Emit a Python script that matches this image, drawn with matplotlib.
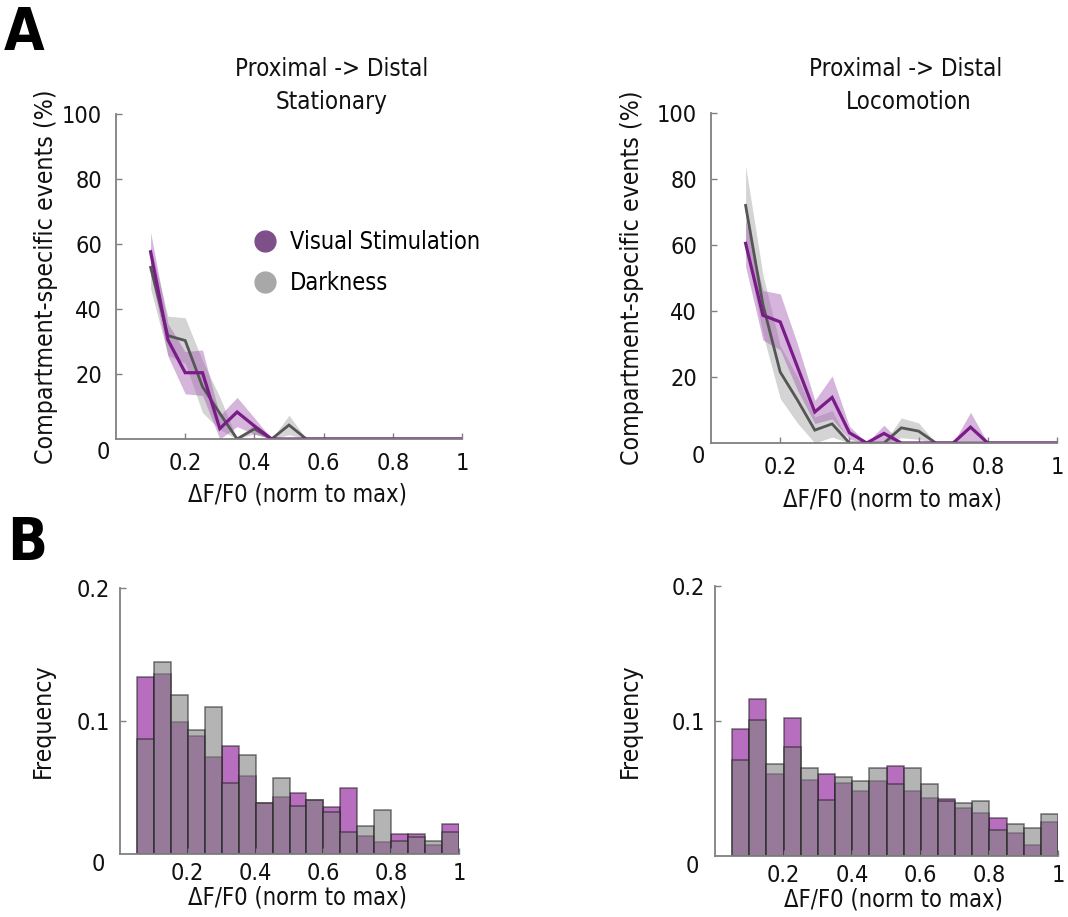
import os
import numpy as np
import matplotlib
matplotlib.use("Agg")
import matplotlib.pyplot as plt
from matplotlib import font_manager as fm
from matplotlib.textpath import TextToPath
from matplotlib.lines import Line2D

# ---- compartment-specific events vs. normalized amplitude (panel A) ----
amp_x = [0.10, 0.15, 0.20, 0.25, 0.30, 0.35, 0.40, 0.45, 0.50, 0.55,
         0.60, 0.65, 0.70, 0.75, 0.80, 0.85, 0.90, 0.95, 1.00]

stat_visual = [57.6, 30.5, 20.4, 20.4, 3.2, 8.3, 4.0, 0, 0, 0,
               0, 0, 0, 0, 0, 0, 0, 0, 0]
stat_visual_sem = [6.0, 5.0, 6.5, 7.0, 4.0, 4.5, 2.5, 0, 0, 0,
                   0, 0, 0, 0, 0, 0, 0, 0, 0]
stat_dark = [52.8, 31.8, 30.3, 16.1, 7.9, 0, 3.1, 0, 4.3, 0,
             0, 0, 0, 0, 0, 0, 0, 0, 0]
stat_dark_sem = [6.5, 6.0, 7.0, 8.0, 5.0, 0, 1.5, 0, 3.0, 0,
                 0, 0, 0, 0, 0, 0, 0, 0, 0]

loco_visual = [60.5, 38.7, 36.7, 23.0, 9.4, 13.8, 3.1, 0, 2.9, 0,
               0, 0, 0, 4.8, 0, 0, 0, 0, 0]
loco_visual_sem = [7.0, 7.5, 8.5, 7.0, 3.5, 6.5, 2.0, 0, 2.5, 0,
                   0, 0, 0, 4.5, 0, 0, 0, 0, 0]
loco_dark = [72.0, 42.0, 21.5, 13.0, 3.9, 5.8, 0, 0, 0, 4.6,
             3.6, 0, 0, 0, 0, 0, 0, 0, 0]
loco_dark_sem = [12.0, 9.0, 8.0, 7.0, 4.0, 4.0, 0, 0, 0, 3.0,
                 2.5, 0, 0, 0, 0, 0, 0, 0, 0]

# ---- amplitude distributions (panel B) ----
bin_edges = [0.05, 0.10, 0.15, 0.20, 0.25, 0.30, 0.35, 0.40, 0.45, 0.50,
             0.55, 0.60, 0.65, 0.70, 0.75, 0.80, 0.85, 0.90, 0.95, 1.00]

stat_visual_freq = [0.133, 0.1357, 0.0992, 0.0884, 0.0726, 0.0814, 0.0588,
                    0.0382, 0.0432, 0.0455, 0.0407, 0.0357, 0.0495, 0.0138,
                    0.0088, 0.0151, 0.0151, 0.0068, 0.0224]
stat_dark_freq = [0.0864, 0.144, 0.1198, 0.0935, 0.1106, 0.0533, 0.0741,
                  0.0382, 0.0575, 0.0362, 0.0407, 0.0314, 0.0166, 0.0211,
                  0.0334, 0.0101, 0.0126, 0.0098, 0.0163]

loco_visual_freq = [0.0943, 0.1161, 0.0611, 0.102, 0.0562, 0.0609, 0.0542,
                    0.048, 0.0554, 0.0663, 0.048, 0.0426, 0.0421, 0.0356,
                    0.0322, 0.0282, 0.0171, 0.0079, 0.0255]
loco_dark_freq = [0.071, 0.1007, 0.0681, 0.0809, 0.0651, 0.0413, 0.0582,
                  0.0557, 0.0651, 0.0537, 0.0651, 0.0535, 0.0411, 0.0391,
                  0.0411, 0.0193, 0.0235, 0.021, 0.0314]

xtick_vals = [0.2, 0.4, 0.6, 0.8, 1.0]
xtick_labels = ['0.2', '0.4', '0.6', '0.8', '1']

LEGEND_LABELS = ['Visual Stimulation', 'Darkness']
TITLE_TOP = 'Proximal -> Distal'
XLABEL = '\u0394F/F0 (norm to max)'
YLABEL_EVENTS = 'Compartment-specific events (%)'
YLABEL_HIST = 'Frequency'


# ---- a narrow sans-serif face for all text, if one is installed ----
def find_font(patterns):
    files = fm.findSystemFonts() + [f.fname for f in fm.fontManager.ttflist]
    names = {os.path.basename(f).lower(): f for f in files}
    for pat in patterns:
        for base, path in sorted(names.items()):
            if base.startswith(pat):
                return path
    return None


REG_FILE = find_font(['liberationsansnarrow-regular', 'liberationsansnarrow.',
                      'notosans-condensed.', 'dejavusanscondensed.',
                      'notosans-semicondensed.', 'robotocondensed-regular',
                      'opensans_condensed-regular', 'opensans-condensed'])
BOLD_FILE = find_font(['liberationsansnarrow-bold.', 'notosans-condensedbold.',
                       'dejavusanscondensed-bold.', 'notosans-semicondensedbold.',
                       'robotocondensed-bold.', 'opensans_condensed-bold'])

if REG_FILE:
    fm.fontManager.addfont(REG_FILE)
    plt.rcParams['font.family'] = [fm.FontProperties(fname=REG_FILE).get_name(), 'DejaVu Sans']


def fp(size, bold=False):
    if bold and BOLD_FILE:
        return fm.FontProperties(fname=BOLD_FILE, size=size)
    if REG_FILE:
        return fm.FontProperties(fname=REG_FILE, size=size,
                                 weight='bold' if bold else 'normal')
    return fm.FontProperties(family='DejaVu Sans', size=size,
                             weight='bold' if bold else 'normal')


_t2p = TextToPath()


def size_for(text, width_px, lo=12, hi=21):
    """Font size (pt) at which `text` spans about width_px pixels at 100 dpi."""
    w, _, _ = _t2p.get_text_width_height_descent(text, fp(10), ismath=False)
    s = 1.08 * 10 * width_px / (w * 100 / 72)
    return float(min(max(s, lo), hi))


FS_TICK = size_for('0.2', 31)
FS_XLAB = size_for(XLABEL, 203)
FS_YLAB = size_for(YLABEL_EVENTS, 347)
FS_TITLE = size_for(TITLE_TOP, 179)
FS_LEG = size_for(LEGEND_LABELS[0], 177)

VIS_LINE = '#7a1c88'
DARK_LINE = '#555555'
VIS_BAND = '#a45cb2'
DARK_BAND = '#a0a0a0'
VIS_BAR = '#8a0d93'
DARK_BAR = '#828282'
AXIS_COL = '#808080'
TXT = '#111111'

W, H = 1068, 917
fig = plt.figure(figsize=(W / 100, H / 100), dpi=100)


def px_axes(x0, x1, y_bottom, y_top):
    return fig.add_axes([x0 / W, 1 - y_bottom / H, (x1 - x0) / W, (y_bottom - y_top) / H])


def style(ax, xpad, ypad):
    for s in ('top', 'right'):
        ax.spines[s].set_visible(False)
    for s in ('left', 'bottom'):
        ax.spines[s].set_color(AXIS_COL)
        ax.spines[s].set_linewidth(1.3)
    ax.tick_params(direction='in', length=4, width=1, color=AXIS_COL, labelcolor=TXT)
    ax.tick_params(axis='x', pad=xpad)
    ax.tick_params(axis='y', pad=ypad)
    ax.set_xlim(0, 1)
    ax.set_xticks(xtick_vals)
    ax.set_xticklabels(xtick_labels)
    for lab in ax.get_xticklabels() + ax.get_yticklabels():
        lab.set_fontproperties(fp(FS_TICK))


def labels(ax, ylabel, ylabel_x, xlabel_xy, zero_xy):
    ax.text(zero_xy[0], zero_xy[1], '0', transform=ax.transAxes, ha='center',
            va='center', fontproperties=fp(FS_TICK), color=TXT)
    ax.set_ylabel(ylabel, fontproperties=fp(FS_YLAB), color=TXT)
    ax.yaxis.set_label_coords(ylabel_x, 0.5)
    ax.yaxis.label.set_va('center')
    ax.set_xlabel(XLABEL, fontproperties=fp(FS_XLAB), color=TXT)
    ax.xaxis.set_label_coords(*xlabel_xy)
    ax.xaxis.label.set_va('center')


def event_panel(ax, vis, vis_sem, dark, dark_sem, ylabel_x):
    x = np.array(amp_x)
    for mean, sem, band in ((dark, dark_sem, DARK_BAND), (vis, vis_sem, VIS_BAND)):
        m = np.array(mean)
        s = np.array(sem)
        ax.fill_between(x, np.clip(m - s, 0, None), m + s, color=band,
                        alpha=0.45, linewidth=0)
    ax.plot(x, dark, color=DARK_LINE, lw=2.0, solid_joinstyle='miter')
    ax.plot(x, vis, color=VIS_LINE, lw=2.3, solid_joinstyle='miter')
    ax.set_ylim(0, 100)
    ax.set_yticks([20, 40, 60, 80, 100])
    style(ax, xpad=9, ypad=10)
    labels(ax, YLABEL_EVENTS, ylabel_x, (0.526, -0.172), (-0.036, -0.042))


def hist_panel(ax, vis_freq, dark_freq, ylabel_x, xlabel_xy):
    left = np.array(bin_edges[:-1])
    width = np.diff(bin_edges)
    ax.bar(left, vis_freq, width=width, align='edge', color=VIS_BAR, alpha=0.6,
           edgecolor='#222222', linewidth=1.1)
    ax.bar(left, dark_freq, width=width, align='edge', color=DARK_BAR, alpha=0.6,
           edgecolor='#222222', linewidth=1.1)
    ax.set_ylim(0, 0.2)
    ax.set_yticks([0.1, 0.2])
    ax.set_yticklabels(['0.1', '0.2'])
    style(ax, xpad=6, ypad=7)
    labels(ax, YLABEL_HIST, ylabel_x, xlabel_xy, (-0.065, -0.04))


# Panel A
ax1 = px_axes(116, 462, 439, 114)
event_panel(ax1, stat_visual, stat_visual_sem, stat_dark, stat_dark_sem, -0.202)
ax2 = px_axes(711, 1057, 443, 113)
event_panel(ax2, loco_visual, loco_visual_sem, loco_dark, loco_dark_sem, -0.228)

handles = [Line2D([], [], ls='', marker='o', markersize=15, color='#7f4f8a'),
           Line2D([], [], ls='', marker='o', markersize=15, color='#a8a8a8')]
ax1.legend(handles, LEGEND_LABELS, loc='center left',
           bbox_to_anchor=(0.397, 0.543), frameon=False, prop=fp(FS_LEG),
           handlelength=1.0, handletextpad=0.55, borderpad=0, borderaxespad=0,
           labelspacing=0.7)

for x, y, s in ((332, 69, TITLE_TOP), (332, 102, 'Stationary'),
                (906, 69, TITLE_TOP), (909, 102, 'Locomotion')):
    fig.text(x / W, 1 - y / H, s, ha='center', va='center',
             fontproperties=fp(FS_TITLE), color=TXT)

# Panel B
ax3 = px_axes(120, 459, 854, 588)
hist_panel(ax3, stat_visual_freq, stat_dark_freq, -0.227, (0.525, -0.162))
ax4 = px_axes(715, 1058, 856, 586)
hist_panel(ax4, loco_visual_freq, loco_dark_freq, -0.248, (0.519, -0.160))

fig.text(24 / W, 1 - 33 / H, 'A', ha='center', va='center', fontproperties=fp(42, True))
fig.text(27 / W, 1 - 543 / H, 'B', ha='center', va='center', fontproperties=fp(42, True))

fig.savefig('out.png', dpi=100)
